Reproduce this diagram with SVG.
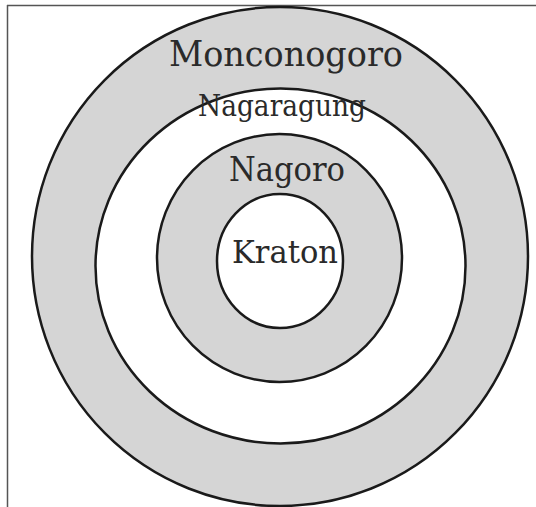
<svg xmlns="http://www.w3.org/2000/svg" width="536" height="507" viewBox="0 0 536 507">
<style>
.ring{stroke:#1a1a1a;stroke-width:2.5}
.gray{fill:#d5d5d5}
.white{fill:#ffffff}
.lbl{font-family:"DejaVu Serif","Liberation Serif",serif;fill:#2a2a2a;text-anchor:middle}
</style>
<rect width="536" height="507" fill="#ffffff"/>
<g id="frame" stroke="#555" stroke-width="1.5" fill="none">
<line x1="7" y1="5.5" x2="536" y2="5.5"/>
<line x1="7.5" y1="5" x2="7.5" y2="507"/>
</g>
<g id="monconogoro">
<ellipse class="ring gray" cx="280" cy="256.5" rx="248" ry="249.5"/>
<text class="lbl" x="286" y="66" font-size="36" textLength="234" lengthAdjust="spacingAndGlyphs">Monconogoro</text>
</g>
<g id="nagaragung">
<ellipse class="ring white" cx="280.5" cy="266" rx="185" ry="177.5"/>
<text class="lbl" x="282" y="116" font-size="29" textLength="168" lengthAdjust="spacingAndGlyphs">Nagaragung</text>
</g>
<g id="nagoro">
<ellipse class="ring gray" cx="279.5" cy="258" rx="122.5" ry="124"/>
<text class="lbl" x="287" y="181" font-size="33" textLength="116" lengthAdjust="spacingAndGlyphs">Nagoro</text>
</g>
<g id="kraton">
<ellipse class="ring white" cx="280" cy="261" rx="63" ry="67"/>
<text class="lbl" x="285" y="263" font-size="32" textLength="106" lengthAdjust="spacingAndGlyphs">Kraton</text>
</g>
<g id="connectors"/>
</svg>
